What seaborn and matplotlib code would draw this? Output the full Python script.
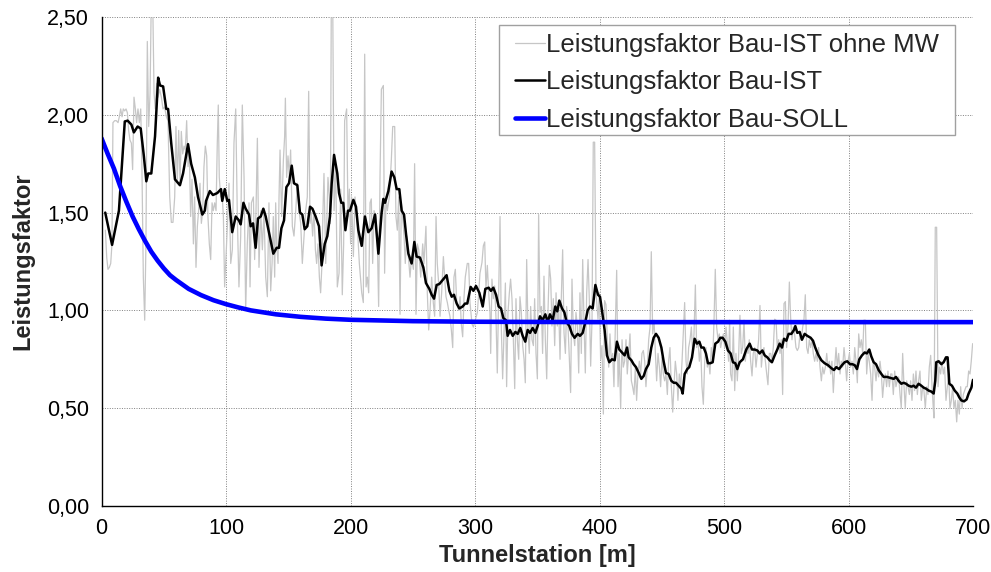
import matplotlib
matplotlib.use("Agg")
import matplotlib.pyplot as plt
import seaborn as sns
from matplotlib.patches import Rectangle
from matplotlib.ticker import FuncFormatter

# --- Leistungsfaktor Bau-IST ohne MW (raw values per station) ---
ist_raw_station = [
    3.1, 4.2, 5.2, 6.3, 7.4, 8.4,
    9.2, 10.6, 11.9, 13.3, 14.3, 15.4, 16.5, 17.5, 18.6, 19.7,
    20.8, 21.8, 22.9, 24.0, 25.0, 26.1, 27.2, 28.2, 29.3, 30.4,
    31.5, 32.5, 33.6, 34.7, 35.7, 36.8, 37.9, 39.0, 40.0, 41.1,
    42.2, 43.2, 44.3, 45.4, 46.7, 48.1, 49.4, 50.7, 52.1, 53.4,
    54.8, 56.1, 57.4, 58.8, 59.8, 60.9, 62.0, 63.1, 64.1, 65.2,
    66.3, 67.3, 68.4, 69.5, 70.5, 71.6, 72.7, 73.8, 74.8, 75.9,
    77.0, 78.0, 79.1, 80.2, 81.3, 82.3, 83.4, 84.5, 85.5, 86.6,
    87.7, 88.8, 89.8, 90.9, 92.0, 93.0, 93.8, 94.6, 95.7, 96.8,
    97.9, 98.9,
    101.1, 102.4, 103.8, 105.1, 106.4, 107.8, 109.1, 110.4, 111.8, 113.1,
    114.5, 115.8, 117.1, 118.5, 119.3, 120.4, 122.0, 123.0, 124.1, 125.2,
    126.5, 127.9, 129.2, 130.5, 131.9, 133.2, 134.5, 135.9, 137.0, 138.0,
    139.1, 139.9, 140.7, 141.8, 142.6, 143.4, 144.7, 146.1, 147.1, 147.7,
    148.7, 149.8, 150.9, 151.9, 153.3, 154.6, 156.0, 157.3, 158.6, 160.0,
    161.3, 162.7, 164.0, 165.3, 166.4, 167.5, 168.5, 169.6, 170.7, 171.8,
    172.8, 173.9, 175.0, 176.0, 177.1, 177.9, 178.7, 180.1, 181.1, 181.9,
    183.0, 183.8, 184.6, 185.7, 186.8, 188.1, 189.4, 190.8, 192.1, 193.4,
    194.5, 195.3, 196.9, 198.0, 199.1, 200.1,
    200.9, 202.3, 203.6, 205.5, 207.1, 209.0, 210.3, 211.4, 212.5, 213.5,
    214.6, 215.7, 216.7, 217.8, 218.9, 220.5, 221.6, 222.6, 223.7, 224.8,
    226.4, 227.4, 228.5, 229.6, 231.2, 232.8, 233.9, 235.5, 236.5, 237.6,
    238.7, 239.8, 240.8, 241.9, 243.0, 244.0, 245.1, 246.5, 247.8, 249.1,
    250.5, 251.5, 252.6, 253.7, 254.8, 256.4, 258.0, 259.0, 260.6, 261.7,
    262.8, 263.9, 265.2, 266.5, 267.6, 268.7, 269.7, 270.8, 271.9, 273.2,
    274.6, 275.6, 276.7, 277.8, 278.9, 279.9, 281.0, 282.1, 283.1, 284.2,
    285.3, 286.9, 288.0, 289.0, 290.1, 291.2, 292.2, 293.8, 294.9, 296.0,
    297.6, 298.7,
    301.9, 303.0, 304.0, 305.6, 306.7, 307.8, 308.8, 309.9, 311.0, 312.0,
    312.6, 313.6, 314.7, 315.8, 316.9, 317.9, 319.0, 320.1, 321.1, 322.2,
    323.3, 324.4, 325.4, 326.5, 327.6, 328.6, 329.7, 330.8, 331.9, 332.9,
    334.0, 335.1, 336.1, 337.2, 338.3, 339.4, 340.4, 341.5, 342.6, 343.6,
    344.7, 345.8, 346.9, 347.9, 349.0, 350.1, 351.1, 352.2, 353.3, 354.3,
    355.4, 356.5, 357.6, 358.6, 359.7, 360.8, 361.8, 362.9, 364.0, 365.1,
    366.1, 367.2, 368.3, 369.3, 370.4, 371.5, 372.6, 373.6, 374.7, 375.8,
    376.8, 377.9, 379.0, 380.1, 381.1, 382.2, 383.3, 384.3, 385.4, 386.5,
    387.5, 388.6, 389.7, 390.8, 391.8, 392.9, 394.0, 395.0, 396.1, 397.2,
    398.8, 399.9, 400.9, 402.0,
    403.1, 404.1, 405.2, 406.3, 407.4, 408.4, 409.5, 410.6, 411.6, 412.7,
    413.8, 414.9, 415.9, 417.0, 418.1, 419.1, 420.2, 421.3, 422.3, 423.4,
    424.5, 425.6, 426.6, 427.7, 428.8, 429.8, 430.9, 432.0, 433.1, 434.1,
    435.2, 436.3, 437.3, 438.4, 439.5, 440.6, 441.6, 442.7, 443.8, 444.8,
    445.9, 447.0, 448.1, 449.1, 450.2, 451.3, 452.3, 453.4, 454.5, 455.5,
    456.6, 457.7, 458.8, 459.8, 460.9, 462.0, 463.0, 464.1, 465.2, 466.3,
    467.3, 468.4, 469.5, 470.5, 471.6, 472.7, 473.8, 474.8, 475.9, 477.0,
    478.0, 479.1, 480.2, 481.3, 482.3, 483.4, 484.5, 485.5, 486.6, 487.7,
    488.7, 489.8, 490.9, 492.0, 493.0, 494.1, 495.2, 496.2, 497.3, 498.4,
    499.5, 500.5, 501.6, 502.7, 503.7,
    504.5, 505.3, 506.4, 507.5, 508.6, 509.6, 510.7, 511.8, 512.8, 513.9,
    515.0, 516.1, 517.1, 518.2, 519.3, 520.3, 521.4, 522.5, 523.5, 524.6,
    525.7, 526.8, 527.8, 528.9, 530.0, 531.0, 532.1, 533.2, 534.3, 535.3,
    536.4, 537.5, 538.5, 539.6, 540.7, 541.8, 542.8, 543.9, 545.0, 546.0,
    547.1, 548.2, 549.3, 550.3, 551.4, 552.5, 553.5, 554.6, 555.7, 556.7,
    557.8, 558.9, 560.0, 561.0, 562.1, 563.2, 564.2, 565.3, 566.4, 567.5,
    568.5, 569.6, 570.7, 571.7, 572.8, 573.9, 575.0, 576.0, 577.1, 578.2,
    579.2, 580.3, 581.4, 582.5, 583.5, 584.6, 585.7, 586.7, 587.8, 588.9,
    590.0, 591.0, 592.1, 593.2, 594.2, 595.3, 596.4, 597.4, 598.5, 599.6,
    600.7, 601.7, 602.8,
    603.9, 605.0, 606.0, 607.1, 608.2, 609.2, 610.3, 611.4, 612.4, 613.5,
    614.6, 615.7, 616.7, 617.8, 618.9, 619.9, 621.0, 622.1, 623.1, 624.2,
    625.3, 626.4, 627.4, 628.5, 629.6, 630.6, 631.7, 632.8, 633.9, 634.9,
    636.0, 637.1, 638.1, 639.2, 640.3, 641.4, 642.4, 643.5, 644.6, 645.6,
    646.7, 647.8, 648.9, 649.9, 651.0, 652.1, 653.1, 654.2, 655.3, 656.3,
    657.4, 658.5, 659.6, 660.6, 661.7, 662.8, 663.8, 664.9, 666.0, 667.1,
    668.1, 668.7, 669.7, 670.8, 671.9, 673.0, 674.0, 675.1, 676.2, 677.2,
    678.3, 679.4, 680.4, 681.5, 682.6, 683.7, 684.7, 685.8, 686.9, 687.9,
    689.0, 690.1, 691.2, 692.2, 693.3, 694.4, 695.4, 696.5, 697.6, 698.6,
    699.7,
]
ist_raw_value = [
    1.41, 1.27, 1.21, 1.22, 1.24, 1.34,
    1.96, 1.97, 1.97, 1.96, 1.99, 2.03, 1.99, 2.03, 2.02, 2.03,
    2.01, 1.92, 1.87, 1.855, 1.72, 2.09, 2.03, 1.96, 2.03, 1.96,
    2.03, 1.72, 1.17, 0.95, 1.34, 2.375, 1.94, 2.11, 2.6, 2.6,
    2.11, 2.03, 2.16, 2.09, 2.13, 2.09, 2.03, 2.04, 1.99, 1.97,
    1.58, 1.45, 1.45, 1.58, 1.94, 1.65, 1.92, 1.65, 1.915, 1.80,
    1.84, 1.82, 1.97, 1.735, 1.82, 1.48, 1.67, 1.34, 1.58, 1.22,
    1.43, 1.51, 1.65, 1.445, 1.51, 1.735, 1.84, 1.79, 1.48, 1.34,
    1.26, 1.55, 1.51, 1.55, 1.51, 1.855, 2.05, 1.68, 1.58, 1.60,
    1.48, 1.12,
    1.43, 1.65, 1.24, 1.31, 1.855, 2.03, 1.48, 1.12, 1.38, 2.05,
    1.68, 1.0, 1.34, 1.55, 1.12, 1.55, 1.58, 1.26, 1.51, 1.88,
    1.22, 1.51, 1.31, 1.51, 1.17, 1.07, 1.55, 1.10, 1.24, 1.48,
    1.17, 1.55, 1.34, 1.24, 1.58, 1.82, 1.48, 1.77, 1.89, 2.085,
    1.68, 1.79, 1.68, 1.82, 1.43, 1.38, 1.51, 1.65, 1.51, 1.445,
    1.24, 1.38, 1.51, 1.58, 2.12, 1.445, 1.50, 1.38, 1.51, 1.31,
    1.24, 1.34, 1.17, 1.09, 1.24, 1.51, 1.70, 1.24, 1.48, 1.68,
    1.58, 1.445, 2.6, 2.6, 1.51, 1.735, 1.12, 1.19, 1.62, 1.08,
    1.34, 1.97, 2.03, 1.48, 1.62, 1.34,
    1.58, 1.275, 1.58, 1.43, 1.24, 1.09, 1.04, 2.31, 1.12, 1.17,
    1.09, 1.55, 1.57, 1.24, 1.51, 1.48, 1.34, 1.02, 1.68, 2.13,
    2.15, 1.19, 1.58, 1.51, 1.58, 1.77, 1.94, 1.94, 1.48, 1.41,
    1.58, 0.98, 1.55, 1.48, 1.38, 1.24, 1.38, 1.275, 1.17, 1.275,
    1.21, 1.75, 0.98, 1.34, 1.31, 1.17, 1.34, 1.24, 1.43, 1.09,
    0.90, 1.0, 1.17, 1.04, 0.97, 1.48, 1.24, 1.14, 0.97, 1.09,
    1.275, 1.17, 1.07, 1.04, 1.0, 0.97, 0.90, 0.81, 1.17, 1.21,
    1.04, 1.0, 1.07, 0.93, 0.865, 1.07, 1.17, 1.24, 1.24, 1.04,
    0.93, 0.915,
    0.99, 1.09, 1.19, 1.245, 1.33, 1.35, 1.11, 1.23, 1.09, 0.99,
    0.78, 1.16, 1.06, 1.125, 0.955, 0.68, 1.09, 1.48, 0.92, 0.65,
    0.885, 1.14, 0.61, 0.99, 1.09, 1.16, 1.06, 0.85, 0.60, 1.06,
    0.85, 0.75, 1.07, 0.99, 0.82, 0.75, 0.63, 1.26, 0.885, 0.78,
    1.02, 0.85, 0.82, 1.06, 0.78, 0.65, 1.49, 0.99, 1.02, 0.78,
    1.175, 0.85, 0.65, 0.99, 1.23, 1.16, 0.92, 1.06, 0.82, 1.09,
    0.92, 1.02, 0.75, 1.06, 1.31, 0.885, 0.78, 1.02, 0.92, 0.75,
    0.58, 1.16, 0.885, 0.82, 0.99, 0.92, 0.68, 1.09, 0.78, 1.26,
    0.955, 0.68, 1.09, 1.26, 1.06, 0.715, 0.955, 1.86, 1.86, 1.09,
    0.955, 1.09, 0.75, 0.82,
    0.47, 1.05, 1.03, 0.85, 0.71, 0.88, 0.74, 0.78, 0.61, 0.915,
    1.205, 0.61, 0.78, 0.50, 0.85, 0.71, 0.74, 0.85, 0.675, 0.78,
    0.88, 0.64, 0.61, 0.57, 0.71, 0.54, 0.675, 0.74, 0.675, 0.78,
    0.795, 0.74, 0.61, 0.71, 0.85, 0.915, 1.30, 0.88, 0.95, 0.795,
    0.64, 0.78, 0.71, 0.61, 0.76, 0.675, 0.64, 0.675, 0.57, 0.74,
    0.81, 0.61, 0.48, 0.61, 0.74, 0.675, 0.54, 0.675, 0.61, 0.74,
    0.88, 1.04, 0.74, 0.675, 0.81, 0.85, 0.915, 0.78, 0.88, 1.13,
    0.81, 0.85, 0.74, 0.81, 0.61, 0.52, 0.74, 0.81, 0.71, 0.74,
    0.675, 0.81, 0.74, 0.95, 1.21, 0.915, 0.85, 0.88, 0.81, 0.85,
    0.88, 0.81, 0.915, 0.83, 0.74,
    0.95, 0.675, 0.64, 0.915, 0.59, 0.78, 0.64, 0.78, 0.975, 0.78,
    0.81, 0.95, 0.74, 0.81, 0.78, 0.85, 0.74, 0.665, 0.78, 0.81,
    0.71, 0.78, 0.85, 1.025, 0.71, 0.78, 0.81, 0.74, 0.675, 0.62,
    0.78, 0.78, 0.74, 0.81, 0.955, 0.95, 0.81, 0.85, 0.78, 0.85,
    0.57, 1.035, 1.045, 0.81, 0.915, 1.145, 0.965, 0.85, 0.915, 0.88,
    0.81, 0.795, 0.81, 0.88, 0.85, 0.915, 0.95, 1.08, 0.81, 0.78,
    0.85, 0.81, 0.85, 0.78, 0.74, 0.78, 0.74, 0.81, 0.71, 0.64,
    0.71, 0.675, 0.71, 0.78, 0.71, 0.74, 0.675, 0.74, 0.58, 0.71,
    0.81, 0.71, 0.78, 0.675, 0.74, 0.71, 0.81, 0.74, 0.64, 0.74,
    0.78, 0.71, 0.74,
    0.675, 0.81, 0.74, 0.63, 0.88, 0.81, 0.85, 0.78, 0.95, 0.95,
    0.675, 0.78, 0.74, 0.675, 0.54, 0.74, 0.71, 0.64, 0.71, 0.66,
    0.74, 0.675, 0.555, 0.64, 0.675, 0.61, 0.69, 0.61, 0.675, 0.675,
    0.57, 0.69, 0.61, 0.64, 0.66, 0.57, 0.50, 0.78, 0.61, 0.50,
    0.64, 0.61, 0.57, 0.64, 0.54, 0.675, 0.59, 0.69, 0.57, 0.64,
    0.69, 0.54, 0.61, 0.59, 0.50, 0.61, 0.57, 0.71, 0.77, 0.61,
    0.50, 0.45, 1.425, 1.425, 0.61, 0.71, 0.675, 0.74, 0.675, 0.71,
    0.54, 0.61, 0.675, 0.50, 0.54, 0.61, 0.50, 0.54, 0.43, 0.54,
    0.47, 0.61, 0.50, 0.57, 0.59, 0.61, 0.61, 0.69, 0.675, 0.74,
    0.83,
]

# --- Leistungsfaktor Bau-IST (moving average) ---
ist_mw_station = [
    3.0, 8.5, 14.0, 18.7, 21.0, 24.0, 26.0, 29.0, 31.5, 34.0,
    36.0, 37.5, 40.0, 43.0, 45.5, 47.0, 49.5, 52.0, 53.5, 56.0,
    59.0, 63.0, 65.5, 69.5, 72.0, 75.0, 77.5, 81.0, 83.0, 84.0,
    87.0, 89.5, 93.0, 96.0, 97.0, 99.0, 101.0, 102.4, 105.0, 107.8,
    110.4, 111.8, 114.0, 115.8, 118.5, 119.8, 121.7, 123.8, 125.7, 127.9,
    130.0, 131.9, 134.5, 138.0, 140.7, 142.6, 144.5, 146.6, 148.5, 150.6,
    152.8, 154.6, 157.3, 159.4, 161.3, 163.2, 165.3, 167.5, 169.4, 172.0,
    174.7, 176.8, 179.3, 181.4, 183.5, 184.9, 186.8, 189.4, 190.8, 192.6,
    194.2, 195.9, 198.0, 199.6, 202.3, 204.4, 206.3, 209.0, 211.6, 214.3,
    217.0, 219.7, 222.4, 225.0, 226.4, 227.7, 230.4, 233.0, 235.2, 237.1,
    239.2, 241.1, 243.0, 244.6, 246.5, 249.1, 251.3, 253.1, 255.8, 258.5,
    260.6, 263.3, 265.2, 267.1, 269.2, 271.4, 274.0, 277.2, 279.4, 281.3,
    283.1, 285.3, 287.4, 290.1, 292.0, 293.8, 296.5, 298.7, 300.8, 303.5,
    306.2, 308.3, 311.0, 312.8, 314.7, 316.9, 319.0, 320.9, 322.8, 324.9,
    326.2, 328.1, 330.3, 332.4, 334.3, 336.4, 338.3, 340.4, 342.3, 344.2,
    346.3, 348.5, 350.3, 352.2, 354.3, 356.5, 358.4, 360.2, 362.4, 364.5,
    366.1, 367.7, 369.9, 371.8, 373.6, 375.8, 377.9, 380.0, 382.5, 384.3,
    386.5, 388.6, 390.5, 392.4, 394.5, 396.7, 398.8, 400.4, 402.0, 404.1,
    406.0, 407.9, 410.0, 412.2, 414.0, 415.9, 418.0, 420.2, 422.1, 423.4,
    425.6, 427.4, 429.3, 431.5, 433.6, 435.5, 437.3, 439.5, 441.6, 443.5,
    445.4, 447.5, 449.7, 451.5, 453.4, 455.5, 457.7, 459.6, 461.4, 463.6,
    465.7, 466.8, 468.4, 470.5, 472.1, 474.3, 476.4, 478.3, 480.2, 481.8,
    483.7, 485.5, 487.1, 489.0, 490.9, 493.0, 495.2, 497.0, 498.9, 501.1,
    503.2, 505.3, 507.2, 509.1, 510.7, 512.6, 515.2, 517.9, 520.6, 522.5,
    524.6, 526.8, 528.6, 530.8, 532.7, 534.8, 536.7, 538.5, 540.7, 542.8,
    544.7, 546.6, 548.2, 550.1, 551.9, 554.1, 556.2, 557.3, 558.9, 560.8,
    562.6, 564.8, 566.9, 569.6, 571.5, 573.3, 575.5, 578.2, 580.8, 583.5,
    586.2, 588.3, 590.2, 592.4, 594.8, 596.9, 599.0, 601.2, 603.1, 605.0,
    606.8, 608.7, 610.8, 613.0, 614.8, 616.7, 618.3, 620.2, 622.1, 624.2,
    626.4, 628.2, 630.9, 633.6, 636.3, 638.1, 640.3, 642.4, 644.3, 646.2,
    648.3, 650.5, 652.3, 654.2, 656.3, 658.5, 660.4, 662.2, 664.4, 666.5,
    668.4, 669.7, 670.5, 672.4, 674.6, 676.4, 678.3, 679.6, 681.0, 683.1,
    685.3, 687.4, 689.0, 690.6, 692.8, 694.9, 696.5, 698.7, 700.0,
]
ist_mw_value = [
    1.50, 1.335, 1.51, 1.966, 1.97, 1.95, 1.91, 1.94, 1.93, 1.79,
    1.66, 1.70, 1.70, 1.89, 2.19, 2.15, 2.145, 2.03, 2.03, 1.855,
    1.67, 1.64, 1.70, 1.85, 1.75, 1.68, 1.58, 1.49, 1.51, 1.56,
    1.61, 1.59, 1.60, 1.62, 1.56, 1.62, 1.56, 1.565, 1.40, 1.48,
    1.46, 1.44, 1.55, 1.52, 1.49, 1.43, 1.445, 1.32, 1.47, 1.48,
    1.52, 1.48, 1.40, 1.29, 1.32, 1.32, 1.42, 1.46, 1.63, 1.65,
    1.74, 1.65, 1.64, 1.50, 1.49, 1.415, 1.43, 1.53, 1.52, 1.48,
    1.43, 1.23, 1.34, 1.38, 1.48, 1.65, 1.795, 1.70, 1.60, 1.55,
    1.55, 1.41, 1.51, 1.51, 1.565, 1.53, 1.41, 1.33, 1.48, 1.40,
    1.42, 1.49, 1.29, 1.50, 1.57, 1.55, 1.61, 1.71, 1.68, 1.62,
    1.62, 1.51, 1.49, 1.39, 1.29, 1.24, 1.35, 1.275, 1.27, 1.22,
    1.14, 1.11, 1.08, 1.06, 1.13, 1.135, 1.155, 1.18, 1.10, 1.07,
    1.08, 1.035, 1.01, 1.02, 1.035, 1.035, 1.12, 1.10, 1.125, 1.09,
    1.02, 1.11, 1.116, 1.10, 1.116, 1.08, 1.02, 1.01, 0.96, 0.95,
    0.87, 0.90, 0.87, 0.89, 0.88, 0.91, 0.87, 0.84, 0.90, 0.885,
    0.91, 0.885, 0.92, 0.97, 0.95, 0.98, 0.94, 0.98, 0.95, 1.02,
    0.995, 1.05, 1.01, 0.99, 0.94, 0.92, 0.88, 0.86, 0.88, 0.87,
    0.885, 0.94, 1.0, 1.02, 1.01, 1.13, 1.08, 1.07, 1.0, 0.90,
    0.77, 0.735, 0.75, 0.745, 0.84, 0.80, 0.785, 0.77, 0.81, 0.76,
    0.745, 0.725, 0.71, 0.68, 0.65, 0.665, 0.70, 0.725, 0.81, 0.86,
    0.88, 0.86, 0.81, 0.74, 0.68, 0.675, 0.64, 0.63, 0.63, 0.615,
    0.60, 0.575, 0.675, 0.70, 0.71, 0.76, 0.855, 0.83, 0.84, 0.81,
    0.81, 0.78, 0.73, 0.73, 0.735, 0.83, 0.84, 0.86, 0.86, 0.84,
    0.795, 0.78, 0.735, 0.73, 0.70, 0.735, 0.75, 0.80, 0.83, 0.80,
    0.80, 0.795, 0.78, 0.795, 0.77, 0.76, 0.745, 0.735, 0.77, 0.80,
    0.83, 0.81, 0.855, 0.845, 0.88, 0.88, 0.90, 0.92, 0.885, 0.89,
    0.85, 0.88, 0.87, 0.86, 0.845, 0.81, 0.775, 0.745, 0.73, 0.72,
    0.705, 0.695, 0.71, 0.70, 0.72, 0.735, 0.74, 0.725, 0.725, 0.72,
    0.70, 0.75, 0.77, 0.785, 0.78, 0.80, 0.765, 0.735, 0.725, 0.695,
    0.675, 0.66, 0.66, 0.655, 0.65, 0.66, 0.64, 0.625, 0.63, 0.625,
    0.615, 0.61, 0.615, 0.605, 0.625, 0.615, 0.605, 0.60, 0.59, 0.585,
    0.575, 0.64, 0.735, 0.74, 0.725, 0.735, 0.76, 0.76, 0.625, 0.615,
    0.59, 0.575, 0.555, 0.54, 0.535, 0.545, 0.575, 0.605, 0.645,
]

# --- Leistungsfaktor Bau-SOLL ---
soll_station = [0, 5, 10, 15, 20, 25, 30, 35, 40, 45, 50, 55, 60, 70, 80,
                90, 100, 110, 120, 140, 160, 180, 200, 250, 300, 350, 400,
                500, 600, 700]
soll_value = [1.88, 1.80, 1.725, 1.635, 1.555, 1.48, 1.415, 1.355, 1.30,
              1.255, 1.215, 1.18, 1.155, 1.11, 1.078, 1.052, 1.032, 1.015,
              1.0, 0.98, 0.967, 0.958, 0.952, 0.945, 0.942, 0.941, 0.94,
              0.94, 0.94, 0.94]

series_labels = ["Leistungsfaktor Bau-IST ohne MW",
                 "Leistungsfaktor Bau-IST",
                 "Leistungsfaktor Bau-SOLL"]

x_ticks = [0, 100, 200, 300, 400, 500, 600, 700]
y_ticks = [0.0, 0.5, 1.0, 1.5, 2.0, 2.5]

sns.set_theme(style="white")
plt.rcParams["font.family"] = ["Liberation Sans", "DejaVu Sans"]

fig = plt.figure(figsize=(9.91, 5.72), dpi=100)
ax = fig.add_axes([101.5 / 991, 1 - 506 / 572, 871.5 / 991, 489 / 572])

sns.lineplot(x=ist_raw_station, y=ist_raw_value, ax=ax, color="#c6c6c6",
             linewidth=0.9, label=series_labels[0], estimator=None, sort=False)
sns.lineplot(x=ist_mw_station, y=ist_mw_value, ax=ax, color="black",
             linewidth=1.8, label=series_labels[1], estimator=None, sort=False)
sns.lineplot(x=soll_station, y=soll_value, ax=ax, color="#0000ff",
             linewidth=3.3, label=series_labels[2], estimator=None, sort=False)

ax.set_xlim(0, 700)
ax.set_ylim(0, 2.5)
ax.set_xticks(x_ticks)
ax.set_yticks(y_ticks)
ax.yaxis.set_major_formatter(FuncFormatter(lambda v, p: f"{v:.2f}".replace(".", ",")))

ax.grid(True, color="#808080", linestyle=(0, (1, 1.5)), linewidth=0.7)
ax.set_axisbelow(True)
for side in ("top", "right"):
    ax.spines[side].set_visible(False)
for side in ("left", "bottom"):
    ax.spines[side].set_color("black")
    ax.spines[side].set_linewidth(1.0)

ax.tick_params(axis="both", direction="out", length=5, width=0.8,
               color="#707070", labelsize=15.5, labelcolor="black", pad=4)

ax.set_xlabel("Tunnelstation [m]", fontsize=17, fontweight="bold", labelpad=3)
ax.set_ylabel("Leistungsfaktor", fontsize=17, fontweight="bold", labelpad=9)

# legend frame drawn as a plain box, entries placed inside it
ax.add_patch(Rectangle((0.4561, 0.7587), 0.9793 - 0.4561, 0.9836 - 0.7587,
                       transform=ax.transAxes, facecolor="white",
                       edgecolor="#a0a0a0", linewidth=1.0, zorder=4.5,
                       clip_on=False))
leg = ax.legend(loc="upper left", bbox_to_anchor=(0.4745, 0.9673),
                fontsize=18.5, frameon=False, handlelength=1.15,
                handletextpad=0.05, labelspacing=0.52, borderpad=0,
                borderaxespad=0)
leg.set_zorder(5)

fig.savefig("out.png", dpi=100, facecolor="white")
